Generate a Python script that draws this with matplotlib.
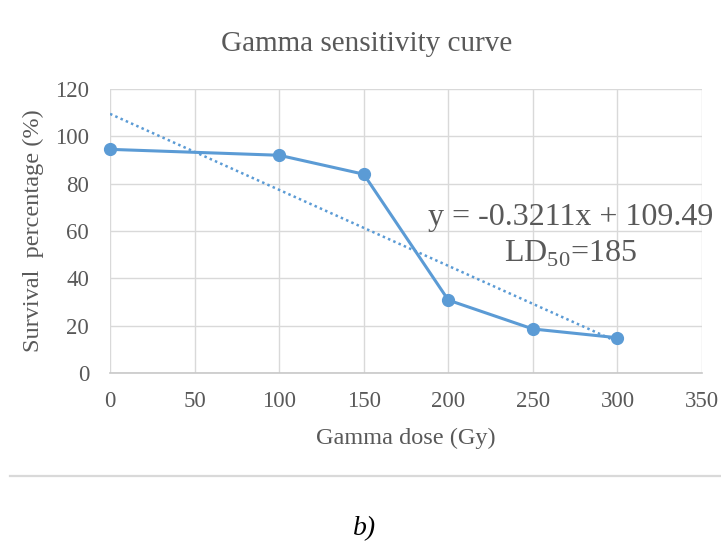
import numpy as np
import matplotlib
matplotlib.use("Agg")
import matplotlib.pyplot as plt
from matplotlib.lines import Line2D

## data
dose = [0, 100, 150, 200, 250, 300]           ## Gy
survival = [94.5, 92.0, 84.0, 30.8, 18.6, 14.9]  ## %
slope = -0.3211
intercept = 109.49
trend_x = [0, 300]
x_ticks = [0, 50, 100, 150, 200, 250, 300, 350]
y_ticks = [0, 20, 40, 60, 80, 100, 120]

blue = '#5B9BD5'
grey = '#595959'
grid = '#D9D9D9'

plt.rcParams['font.family'] = ['Liberation Serif', 'DejaVu Serif']
plt.rcParams['mathtext.fontset'] = 'custom'
plt.rcParams['mathtext.rm'] = 'Liberation Serif'

fig = plt.figure(figsize=(7.21, 5.42), dpi=100)
ax = fig.add_axes([0.1526, 0.3118, 0.8211, 0.524])

trend_y = [slope * x + intercept for x in trend_x]
ax.plot(trend_x, trend_y, color=blue, lw=1.8, dashes=(1, 1.3), zorder=2)
ax.plot(dose, survival, color=blue, lw=2.2, marker='o', ms=8.5, zorder=3, clip_on=False)

ax.set_xlim(0, 350)
ax.set_ylim(0, 120)
ax.set_xticks(x_ticks)
ax.set_yticks(y_ticks)
ax.grid(True, color=grid, lw=1.0, zorder=0)
ax.set_axisbelow(True)
for s in ['top', 'right', 'left']:
    ax.spines[s].set_visible(False)
ax.spines['bottom'].set_color('#C8C8C8')
ax.spines['bottom'].set_linewidth(1.2)
ax.tick_params(axis='both', length=0, labelsize=16.5, labelcolor=grey)
ax.tick_params(axis='x', pad=13)
ax.tick_params(axis='y', pad=15)

ax.set_xlabel('Gamma dose (Gy)', fontsize=17.5, color=grey)
ax.xaxis.set_label_coords(0.5, -0.229)
ax.xaxis.label.set_va('center')
ax.set_ylabel('Survival  percentage (%)', fontsize=17.5, color=grey)
ax.yaxis.set_label_coords(-0.130, 0.5)
ax.yaxis.label.set_va('center')

ax.text(272.5, 65.5, 'y = -0.3211x + 109.49', fontsize=23, color=grey,
        ha='center', va='center')
ax.text(272.5, 50.3, r'LD$_{\mathrm{50}}$=185', fontsize=23, color=grey,
        ha='center', va='center')

fig.text(0.509, 0.9188, 'Gamma sensitivity curve', fontsize=21, color=grey,
         ha='center', va='center')

fig.add_artist(Line2D([10 / 721, 1.0], [1 - 476 / 542] * 2, color=grid, lw=1.6))
fig.text(365 / 721, 1 - 529 / 542, 'b)', fontsize=20, style='italic',
         color='black', ha='center', va='center')

fig.savefig('out.png', dpi=100)
